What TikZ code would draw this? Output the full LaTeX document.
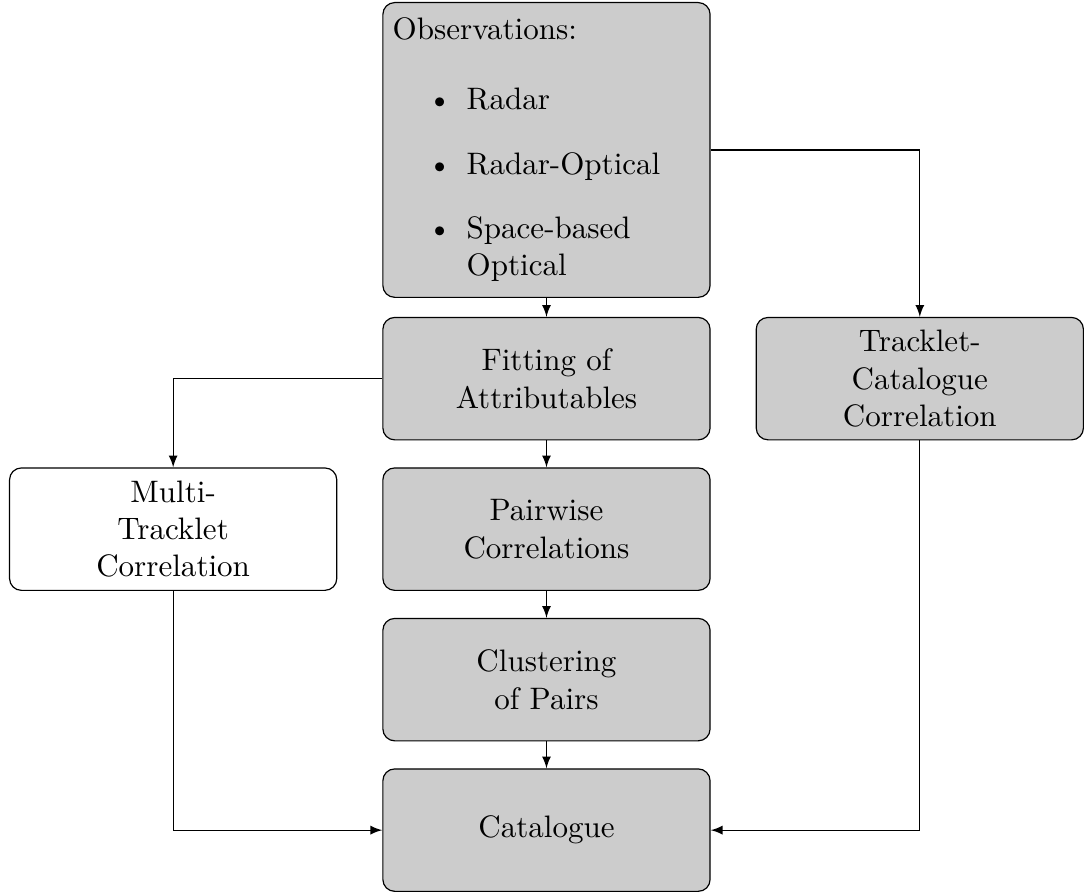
\documentclass[tikz,border=0pt]{standalone}
\usepackage{enumitem}
\usetikzlibrary{positioning}

\begin{document}
\begin{tikzpicture}[
  font=\fontsize{10.5pt}{12.6pt}\selectfont,
  process/.style={rectangle, draw, fill=black!20, rounded corners,
                  text width=104pt, align=center, minimum height=41.4pt},
  open/.style={process, fill=white},
  line/.style={draw, -latex},
  node distance=9.1pt and 15.2pt
]
% Nodes
\node[process, align=left, minimum height=99.7pt] (obs) {Observations:
  \begin{itemize}[itemsep=5.2pt, topsep=11pt]
    \item Radar
    \item Radar-Optical
    \item Space-based Optical
  \end{itemize}};
\node[process, below=6.4pt of obs] (fit) {Fitting of\\Attributables};
\node[process, right=of fit] (tc) {Tracklet-\\Catalogue\\Correlation};
\node[process, below=of fit] (pair) {Pairwise\\Correlations};
\node[open, left=of pair] (multi) {Multi-\\Tracklet\\Correlation};
\node[process, below=of pair] (clust) {Clustering\\of Pairs};
\node[process, below=of clust] (cat) {Catalogue};
% Frame
\useasboundingbox ([xshift=-129.3pt, yshift=0.67pt]obs.north west)
  rectangle ([xshift=235.7pt, yshift=-298.7pt]obs.north west);
% Edges
\path[line] (obs) -- (fit);
\path[line] (obs.east) -| (tc);
\path[line] (fit.west) -| (multi);
\path[line] (fit) -- (pair);
\path[line] (pair) -- (clust);
\path[line] (clust) -- (cat);
\path[line] (multi) |- (cat);
\path[line] (tc) |- (cat);
\end{tikzpicture}
\end{document}
